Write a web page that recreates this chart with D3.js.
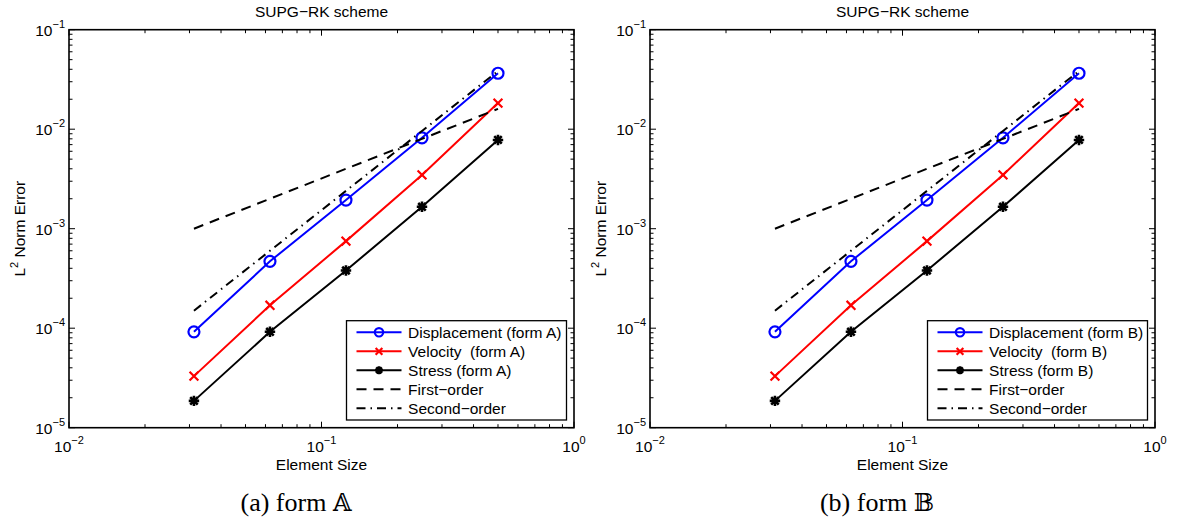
<!DOCTYPE html>
<html>
<head>
<meta charset="utf-8">
<script src="https://cdn.jsdelivr.net/npm/d3@7"></script>
<style>
  html, body { margin: 0; padding: 0; background: #fff; }
  svg { display: block; }
  .ax text { font-family: "Liberation Sans", Arial, Helvetica, sans-serif; white-space: pre; }
  .cap { font-family: "Liberation Serif", "Times New Roman", serif; }
</style>
</head>
<body>
<svg id="fig" width="1179" height="522"></svg>
<script>
// Element sizes h and the L2 errors measured at each one
const elementSize = [0.03125, 0.0625, 0.125, 0.25, 0.5];
const displacementErr = [9.2e-5, 4.7e-4, 1.94e-3, 8.2e-3, 3.65e-2];
const velocityErr = [3.3e-5, 1.7e-4, 7.5e-4, 3.47e-3, 1.83e-2];
const stressErr = [1.86e-5, 9.2e-5, 3.8e-4, 1.66e-3, 7.8e-3];
// Reference slopes
const firstOrderRef = [1.0e-3, 2.0e-3, 4.0e-3, 8.0e-3, 1.6e-2];
const secondOrderRef = [1.5e-4, 6.0e-4, 2.4e-3, 9.6e-3, 3.84e-2];

const xDomain = [1e-2, 1];
const yDomain = [1e-5, 1e-1];
const xTickExp = [-2, -1, 0];
const yTickExp = [-5, -4, -3, -2, -1];

const panels = [
  { form: "A", caption: "(a) form ", letter: "\u{1D538}", left: 69, right: 574, capX: 296 },
  { form: "B", caption: "(b) form ", letter: "\u{1D539}", left: 650, right: 1155, capX: 877 }
];
const axTop = 29.7, axBottom = 427.7;

const svg = d3.select("#fig");
const FS = 15.5, SUP = 11;

function supText(e) {
  return e < 0 ? "\u2212" + (-e) : String(e);
}

function drawMarker(g, kind, x, y, color, size) {
  if (kind === "o") {
    g.append("circle").attr("cx", x).attr("cy", y).attr("r", size)
      .attr("fill", "none").attr("stroke", color).attr("stroke-width", 2.2);
  } else if (kind === "x") {
    const s = size * 0.8;
    g.append("path").attr("d", `M${x - s},${y - s}L${x + s},${y + s}M${x - s},${y + s}L${x + s},${y - s}`)
      .attr("stroke", color).attr("stroke-width", 2.2).attr("fill", "none");
  } else if (kind === "*") {
    const s = size * 0.95, d = s * 0.72;
    g.append("path").attr("d",
      `M${x - s},${y}L${x + s},${y}M${x},${y - s}L${x},${y + s}` +
      `M${x - d},${y - d}L${x + d},${y + d}M${x - d},${y + d}L${x + d},${y - d}`)
      .attr("stroke", color).attr("stroke-width", 2.6).attr("fill", "none");
  }
}

panels.forEach(p => {
  const x = d3.scaleLog().domain(xDomain).range([p.left, p.right]);
  const y = d3.scaleLog().domain(yDomain).range([axBottom, axTop]);
  const g = svg.append("g").attr("class", "ax");

  const series = [
    { name: `Displacement (form ${p.form})`, vals: displacementErr, color: "#0000ff", marker: "o", dash: null },
    { name: `Velocity  (form ${p.form})`, vals: velocityErr, color: "#ff0000", marker: "x", dash: null },
    { name: `Stress (form ${p.form})`, vals: stressErr, color: "#000000", marker: "*", dash: null },
    { name: "First\u2212order", vals: firstOrderRef, color: "#000000", marker: null, dash: "10,7" },
    { name: "Second\u2212order", vals: secondOrderRef, color: "#000000", marker: null, dash: "9,5,1.5,5" }
  ];

  // ticks (inward, on all four sides)
  const tickG = g.append("g");
  const major = 6, minor = 3.5;
  xTickExp.forEach(e => {
    const v = Math.pow(10, e);
    const px = x(v);
    tickG.append("line").attr("x1", px).attr("x2", px).attr("y1", axBottom).attr("y2", axBottom - major);
    tickG.append("line").attr("x1", px).attr("x2", px).attr("y1", axTop).attr("y2", axTop + major);
    if (e < 0) {
      for (let k = 2; k <= 9; k++) {
        const mx = x(k * v);
        tickG.append("line").attr("x1", mx).attr("x2", mx).attr("y1", axBottom).attr("y2", axBottom - minor);
        tickG.append("line").attr("x1", mx).attr("x2", mx).attr("y1", axTop).attr("y2", axTop + minor);
      }
    }
    const t = g.append("text").attr("x", px).attr("y", axBottom + 24).attr("text-anchor", "middle")
      .attr("font-size", FS);
    t.append("tspan").text("10");
    t.append("tspan").attr("dy", -8).attr("font-size", SUP).text(supText(e));
  });
  yTickExp.forEach(e => {
    const v = Math.pow(10, e);
    const py = y(v);
    tickG.append("line").attr("x1", p.left).attr("x2", p.left + major).attr("y1", py).attr("y2", py);
    tickG.append("line").attr("x1", p.right).attr("x2", p.right - major).attr("y1", py).attr("y2", py);
    if (e < -1) {
      for (let k = 2; k <= 9; k++) {
        const my = y(k * v);
        tickG.append("line").attr("x1", p.left).attr("x2", p.left + minor).attr("y1", my).attr("y2", my);
        tickG.append("line").attr("x1", p.right).attr("x2", p.right - minor).attr("y1", my).attr("y2", my);
      }
    }
    const t = g.append("text").attr("x", p.left - 4).attr("y", py + 6).attr("text-anchor", "end")
      .attr("font-size", FS);
    t.append("tspan").text("10");
    t.append("tspan").attr("dy", -8).attr("font-size", SUP).text(supText(e));
  });
  tickG.selectAll("line").attr("stroke", "#000").attr("stroke-width", 1);

  // data lines
  const line = d3.line().x((d, i) => x(elementSize[i])).y(d => y(d));
  series.forEach(s => {
    g.append("path").attr("d", line(s.vals)).attr("fill", "none")
      .attr("stroke", s.color).attr("stroke-width", 2)
      .attr("stroke-dasharray", s.dash);
    if (s.marker) {
      s.vals.forEach((v, i) => drawMarker(g, s.marker, x(elementSize[i]), y(v), s.color, 5.5));
    }
  });

  // axes box
  g.append("rect").attr("x", p.left).attr("y", axTop).attr("width", p.right - p.left).attr("height", axBottom - axTop)
    .attr("fill", "none").attr("stroke", "#000").attr("stroke-width", 1.6);

  // legend
  const lgX = p.right - 227.5, lgY = 320.7, lgW = 220, lgH = 99.3;
  const lg = g.append("g");
  lg.append("rect").attr("x", lgX).attr("y", lgY).attr("width", lgW).attr("height", lgH)
    .attr("fill", "#fff").attr("stroke", "#000").attr("stroke-width", 1.3);
  series.forEach((s, i) => {
    const ry = lgY + 11.6 + i * 19;
    lg.append("line").attr("x1", lgX + 10).attr("x2", lgX + 55).attr("y1", ry).attr("y2", ry)
      .attr("stroke", s.color).attr("stroke-width", 2).attr("stroke-dasharray", s.dash);
    if (s.marker) drawMarker(lg, s.marker, lgX + 32.5, ry, s.color, 4.2);
    lg.append("text").attr("x", lgX + 61.6).attr("y", ry + 5.5).attr("font-size", FS)
      .attr("xml:space", "preserve").text(s.name);
  });

  // titles and labels
  const cx = (p.left + p.right) / 2;
  g.append("text").attr("x", cx).attr("y", 17).attr("text-anchor", "middle").attr("font-size", FS)
    .text("SUPG\u2212RK scheme");
  g.append("text").attr("x", cx).attr("y", 470).attr("text-anchor", "middle").attr("font-size", FS)
    .text("Element Size");
  const yl = g.append("text").attr("transform", `translate(${p.left - 44},${(axTop + axBottom) / 2}) rotate(-90)`)
    .attr("text-anchor", "middle").attr("font-size", FS);
  yl.append("tspan").text("L");
  yl.append("tspan").attr("dy", -7).attr("font-size", SUP).text("2");
  yl.append("tspan").attr("dy", 7).attr("xml:space", "preserve").text(" Norm Error");

  // sub-figure caption
  const cap = svg.append("text").attr("class", "cap").attr("x", p.capX).attr("y", 511)
    .attr("text-anchor", "middle").attr("font-size", 26);
  cap.append("tspan").attr("xml:space", "preserve").text(p.caption);
  cap.append("tspan").attr("font-family", "DejaVu Serif, DejaVu Sans, serif").attr("font-size", 24).text(p.letter);
});
</script>
</body>
</html>
